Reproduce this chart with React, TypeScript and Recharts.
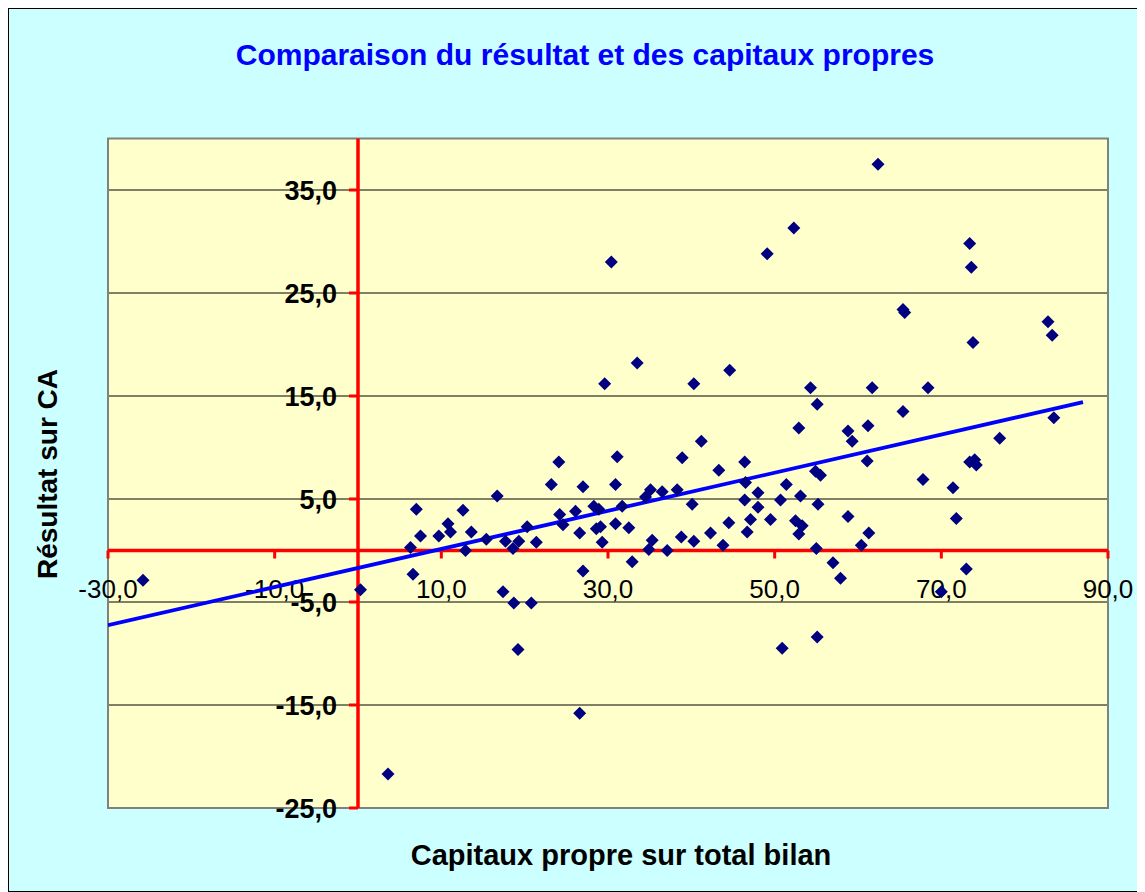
import React from "react";
import {
  CartesianGrid,
  ReferenceArea,
  ReferenceDot,
  ReferenceLine,
  Scatter,
  ScatterChart,
  XAxis,
  YAxis,
} from "recharts";

// capitaux propres / total bilan (x) and résultat / CA (y)
const capitauxPropres = [
  -25.8, 0.3, 3.6, 6.3, 6.6, 7.0, 7.5, 9.7, 10.8, 11.1, 12.6, 12.9, 13.6, 15.4,
  16.7, 17.4, 17.7, 18.6, 18.7, 19.2, 19.3, 20.3, 20.8, 21.4, 23.2, 24.1, 24.2,
  24.6, 26.1, 26.6, 26.6, 27.0, 27.0, 28.3, 28.6, 28.9, 29.1, 29.3, 29.6, 30.4,
  30.9, 30.9, 31.1, 31.7, 32.5, 32.9, 33.5, 34.5, 34.9, 35.1, 35.3, 36.5, 37.1,
  38.3, 38.8, 38.9, 40.1, 40.3, 40.3, 41.2, 42.3, 43.3, 43.8, 44.5, 44.6, 46.4,
  46.5, 46.4, 46.7, 47.1, 48.0, 48.0, 49.1, 49.5, 50.7, 50.9, 51.4, 52.3, 52.5,
  52.9, 52.9, 53.1, 53.3, 54.3, 54.9, 55.5, 55.0, 55.1, 55.1, 55.2, 57.0, 57.9,
  58.8, 58.8, 59.3, 60.4, 61.1, 61.2, 61.3, 61.7, 62.4, 65.4, 65.4, 65.6, 67.8,
  68.4, 70.0, 71.4, 71.8, 73.0, 73.4, 73.4, 73.6, 73.8, 74.0, 74.2, 77.0, 82.8,
  83.3, 83.5,
];
const resultatCA = [
  -2.9, -3.8, -21.7, 0.3, -2.3, 4.0, 1.4, 1.4, 2.6, 1.8, 3.9, 0.0, 1.8, 1.1,
  5.3, -4.0, 0.9, 0.2, -5.1, -9.6, 0.9, 2.3, -5.1, 0.8, 6.4, 8.6, 3.5,
  2.5, 3.8, 1.7, -15.8, 6.2, -2.0, 4.3, 2.1, 4.0, 2.3, 0.8, 16.2, 28.0,
  6.4, 2.6, 9.1, 4.3, 2.2, -1.1, 18.2, 5.2, 0.1, 5.9, 1.0, 5.7, 0.0,
  5.9, 1.3, 9.0, 4.5, 0.9, 16.2, 10.6, 1.7, 7.8, 0.5, 2.7, 17.5, 8.6,
  6.6, 4.9, 1.8, 3.0, 5.6, 4.2, 28.8, 3.0, 4.9, -9.5, 6.4, 31.3, 2.9,
  11.9, 1.6, 5.3, 2.4, 15.8, 7.7, 7.3, 0.2, 14.2, -8.4, 4.5, -1.2, -2.7,
  11.6, 3.3, 10.6, 0.5, 8.7, 12.1, 1.7, 15.8, 37.5, 13.5, 23.4, 23.1, 6.9,
  15.8, -4.0, 6.1, 3.1, -1.8, 8.6, 29.8, 27.5, 20.2, 8.8, 8.3, 10.9, 22.2,
  20.9, 12.9,
];

const xTicks = [-30, -10, 10, 30, 50, 70, 90];
const yTicks = [-25, -15, -5, 5, 15, 25, 35];

// linear trendline endpoints
const trendX = [-30, 87];
const trendY = [-7.25, 14.4];

const points = capitauxPropres.map((x, i) => ({ x, y: resultatCA[i] }));
const trend = trendX.map((x, i) => ({ x, y: trendY[i] }));

const FONT = '"Liberation Sans", Arial, sans-serif';
const fmt = (v: number) => v.toFixed(1).replace(".", ",");

const Diamond = (props: any) => {
  const { cx, cy } = props;
  if (cx == null || cy == null) return <g />;
  const r = 6.5;
  return (
    <path
      d={`M${cx},${cy - r}L${cx + r},${cy}L${cx},${cy + r}L${cx - r},${cy}Z`}
      fill="#000080"
    />
  );
};

const xTickShape = (label: string) => (props: any) => (
  <g>
    <line
      x1={props.cx}
      y1={props.cy}
      x2={props.cx}
      y2={props.cy + 8}
      stroke="#FF0000"
      strokeWidth={3}
    />
    <text
      x={props.cx}
      y={props.cy + 47}
      textAnchor="middle"
      fontFamily={FONT}
      fontSize={26}
      fill="#000"
    >
      {label}
    </text>
  </g>
);

const yTickShape = (label: string) => (props: any) => (
  <g>
    <line
      x1={props.cx - 9}
      y1={props.cy}
      x2={props.cx}
      y2={props.cy}
      stroke="#FF0000"
      strokeWidth={3}
    />
    <text
      x={props.cx - 21}
      y={props.cy}
      dy="0.36em"
      textAnchor="end"
      fontFamily={FONT}
      fontSize={27}
      fontWeight="bold"
      fill="#000"
    >
      {label}
    </text>
  </g>
);

export default function App() {
  return (
    <div
      style={{
        position: "relative",
        width: 1137,
        height: 884,
        background: "#CCFFFF",
        boxShadow: "inset 0 0 0 1px #000",
        fontFamily: FONT,
      }}
    >
      <div
        style={{
          position: "absolute",
          left: 577,
          top: 47,
          transform: "translate(-50%, -50%)",
          whiteSpace: "nowrap",
          lineHeight: 1,
          fontSize: 30,
          fontWeight: "bold",
          color: "#0000FF",
        }}
      >
        Comparaison du résultat et des capitaux propres
      </div>
      <div
        style={{
          position: "absolute",
          left: 40,
          top: 466,
          transform: "translate(-50%, -50%) rotate(-90deg)",
          whiteSpace: "nowrap",
          lineHeight: 1,
          fontSize: 28,
          fontWeight: "bold",
          color: "#000",
        }}
      >
        Résultat sur CA
      </div>
      <div
        style={{
          position: "absolute",
          left: 613,
          top: 847,
          transform: "translate(-50%, -50%)",
          whiteSpace: "nowrap",
          lineHeight: 1,
          fontSize: 29,
          fontWeight: "bold",
          color: "#000",
        }}
      >
        Capitaux propre sur total bilan
      </div>
      <ScatterChart
        width={1137}
        height={884}
        margin={{ top: 130.5, right: 37, bottom: 84, left: 100 }}
      >
        <XAxis
          type="number"
          dataKey="x"
          domain={[-30, 90]}
          ticks={xTicks}
          allowDataOverflow
          hide
        />
        <YAxis
          type="number"
          dataKey="y"
          domain={[-25, 40]}
          ticks={yTicks}
          allowDataOverflow
          hide
        />
        <CartesianGrid
          vertical={false}
          horizontalValues={yTicks}
          stroke="#000"
          strokeOpacity={1}
          fill="#FFFFCC"
          fillOpacity={1}
        />
        <ReferenceArea
          x1={-30}
          x2={90}
          y1={-25}
          y2={40}
          fill="none"
          stroke="#808080"
          strokeWidth={2}
          ifOverflow="visible"
          zIndex={-60}
        />
        <ReferenceLine x={0} stroke="#FF0000" strokeWidth={3.5} zIndex={-50} />
        <ReferenceLine y={0} stroke="#FF0000" strokeWidth={3.5} zIndex={-50} />
        {xTicks.map((t) => (
          <ReferenceDot
            key={`xt${t}`}
            x={t}
            y={0}
            r={0}
            ifOverflow="visible"
            shape={xTickShape(fmt(t))}
            zIndex={-40}
          />
        ))}
        {yTicks.map((t) => (
          <ReferenceDot
            key={`yt${t}`}
            x={0}
            y={t}
            r={0}
            ifOverflow="visible"
            shape={yTickShape(fmt(t))}
            zIndex={-40}
          />
        ))}
        <Scatter
          data={trend}
          line={{ stroke: "#0000FF", strokeWidth: 3.8 }}
          shape={() => <g />}
          isAnimationActive={false}
        />
        <Scatter data={points} shape={Diamond} isAnimationActive={false} />
      </ScatterChart>
    </div>
  );
}
